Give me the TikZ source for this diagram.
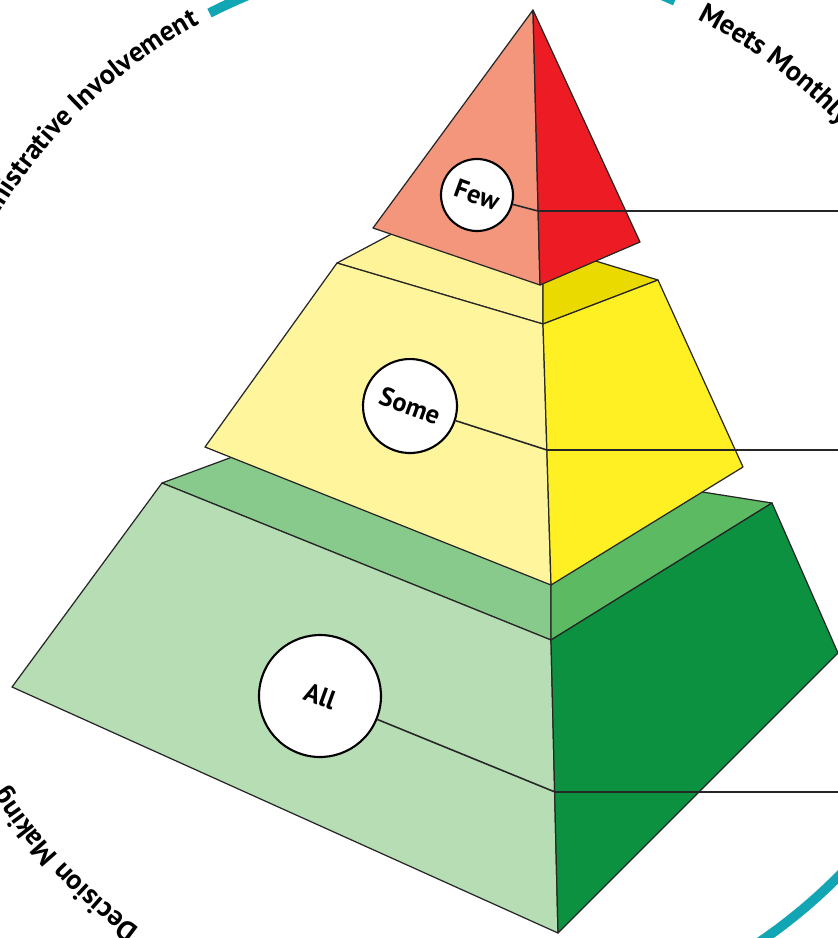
\documentclass[tikz,border=0pt]{standalone}
\usepackage{fontspec}
\setsansfont{PT Sans}
\usepackage{tikz}
\usetikzlibrary{positioning,calc,decorations.text}

\definecolor{redleft}{HTML}{F4967B}
\definecolor{redright}{HTML}{ED1C24}
\definecolor{yelfront}{HTML}{FFF59D}
\definecolor{yeltopl}{HTML}{FEF398}
\definecolor{yeltopr}{HTML}{EBDA00}
\definecolor{yelright}{HTML}{FFF024}
\definecolor{grnfront}{HTML}{B6DDB4}
\definecolor{grntopl}{HTML}{88CA8B}
\definecolor{grntopr}{HTML}{5BBA62}
\definecolor{grnright}{HTML}{0B9140}
\definecolor{ringteal}{HTML}{12A5B4}

\begin{document}
\begin{tikzpicture}[x=0.02cm,y=-0.02cm,
  every node/.style={font=\sffamily\bfseries},
  face/.style={draw=black!85,line width=0.7pt,line join=round},
  tag/.style={circle,draw,fill=white,line width=1.2pt,inner sep=0pt,
    font=\sffamily\bfseries\fontsize{15}{17}\selectfont,rotate=-20},
  lead/.style={draw=black!85,line width=0.9pt},
  ring/.style={draw=ringteal,line width=5.5pt}
]
  \useasboundingbox (0,0) rectangle (838,938);
  \clip (0,0) rectangle (838,938);

  \coordinate (O) at (455,495);

  % outer ring and its texts
  \draw[ring] ($(O)+(117:10.82cm)$) arc[start angle=117,end angle=66,radius=10.82cm];
  \draw[ring] ($(O)+(-30:10.82cm)$) arc[start angle=-30,end angle=-75,radius=10.82cm];
  \path[decorate,decoration={text along path,text align=right,
    text={|\sffamily\bfseries\fontsize{16}{19}\selectfont|Administrative Involvement}}]
    ($(O)+(200:10.72cm)$) arc[start angle=200,end angle=118.5,radius=10.72cm];
  \path[decorate,decoration={text along path,text align=left,
    text={|\sffamily\bfseries\fontsize{16}{19}\selectfont|Meets Monthly}}]
    ($(O)+(63:10.68cm)$) arc[start angle=63,end angle=0,radius=10.68cm];
  \path[decorate,decoration={text along path,text align=left,
    text={|\sffamily\bfseries\fontsize{16}{19}\selectfont|Decision Making}}]
    ($(O)+(234:10.72cm)$) arc[start angle=234,end angle=150,radius=10.72cm];

  % bottom tier
  \filldraw[face,fill=grntopl] (162,483) -- (308,429) -- (551,468) -- (551,640) -- cycle;
  \filldraw[face,fill=grntopr] (551,640) -- (772,503) -- (551,468) -- cycle;
  \filldraw[face,fill=grnfront] (162,483) -- (551,640) -- (558,933) -- (12,687) -- cycle;
  \filldraw[face,fill=grnright] (551,640) -- (772,503) -- (838,653) -- (558,933) -- cycle;

  % middle tier
  \filldraw[face,fill=yeltopl] (337,263) -- (433,212) -- (543,245) -- (543,324) -- cycle;
  \filldraw[face,fill=yeltopr] (543,324) -- (658,280) -- (543,245) -- cycle;
  \filldraw[face,fill=yelfront] (337,263) -- (543,324) -- (551,585) -- (205,447) -- cycle;
  \filldraw[face,fill=yelright] (543,324) -- (658,280) -- (743,467) -- (551,585) -- cycle;

  % top
  \filldraw[face,fill=redleft] (533,10) -- (540,285) -- (373,228) -- cycle;
  \filldraw[face,fill=redright] (533,10) -- (640,242) -- (540,285) -- cycle;

  \node[tag,minimum size=1.44cm] (few) at (477,195) {Few};
  \node[tag,minimum size=1.88cm] (some) at (410,406) {Some};
  \node[tag,minimum size=2.44cm] (all) at (320,696) {All};

  \coordinate (fewj) at (538,211);
  \coordinate (somej) at (547,450);
  \coordinate (allj) at (555,792);
  \coordinate (fewe) at (838,211);
  \coordinate (somee) at (838,450);
  \coordinate (alle) at (838,792);

  \draw[lead] (few) -- (fewj) -- (fewe);
  \draw[lead] (some) -- (somej) -- (somee);
  \draw[lead] (all) -- (allj) -- (alle);
\end{tikzpicture}
\end{document}
